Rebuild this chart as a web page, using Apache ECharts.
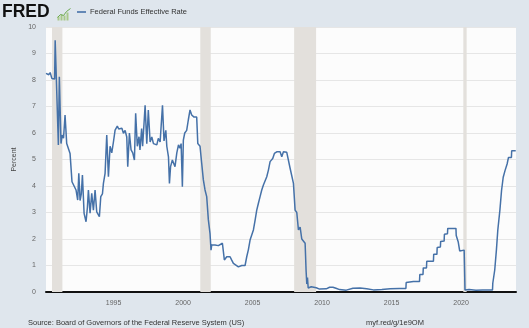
<!DOCTYPE html>
<html><head><meta charset="utf-8">
<script src="https://cdn.jsdelivr.net/npm/echarts@6/dist/echarts.min.js"></script>
<style>html,body{margin:0;padding:0;background:#dfe6ed}#c{width:529px;height:328px}</style>
</head><body><div id="c"></div>
<script>
// x values are fractional years
const dates = [
1990.14,1990.24,1990.34,1990.44,1990.50,1990.56,1990.66,1990.76,1990.80,1991.03,
1991.10,1991.22,1991.30,1991.40,1991.51,1991.63,1991.72,1991.87,1992.01,1992.10,
1992.30,1992.42,1992.50,1992.59,1992.68,1992.76,1992.88,1993.02,1993.12,1993.19,
1993.31,1993.43,1993.55,1993.67,1993.79,1993.91,1993.98,1994.08,1994.20,1994.27,
1994.39,1994.51,1994.63,1994.75,1994.87,1994.99,1995.11,1995.27,1995.37,1995.47,
1995.60,1995.71,1995.83,1995.95,1996.02,1996.14,1996.26,1996.38,1996.50,1996.59,
1996.71,1996.83,1996.90,1997.02,1997.09,1997.19,1997.27,1997.39,1997.50,1997.63,
1997.75,1997.87,1997.99,1998.11,1998.22,1998.35,1998.52,1998.63,1998.76,1998.83,
1998.95,1999.02,1999.10,1999.23,1999.35,1999.42,1999.55,1999.67,1999.78,1999.86,
1999.95,2000.02,2000.12,2000.26,2000.38,2000.50,2000.62,2000.79,2000.98,2001.06,
2001.13,2001.22,2001.34,2001.46,2001.58,2001.70,2001.82,2001.94,2002.01,2002.06,
2002.30,2002.54,2002.66,2002.83,2002.97,2003.14,2003.38,2003.50,2003.62,2003.74,
2003.98,2004.22,2004.46,2004.58,2004.70,2004.82,2004.94,2005.06,2005.18,2005.30,
2005.42,2005.54,2005.66,2005.78,2005.90,2006.02,2006.14,2006.26,2006.45,2006.57,
2006.74,2006.98,2007.10,2007.22,2007.46,2007.58,2007.70,2007.82,2007.94,2008.06,
2008.18,2008.30,2008.42,2008.54,2008.66,2008.78,2008.85,2008.90,2008.95,2009.00,
2009.22,2009.58,2009.82,2010.30,2010.54,2010.78,2011.00,2011.26,2011.74,2012.22,
2012.73,2013.21,2013.69,2014.30,2014.90,2015.57,2016.03,2016.05,2016.57,2017.01,
2017.03,2017.26,2017.28,2017.51,2017.53,2018.01,2018.03,2018.26,2018.28,2018.51,
2018.53,2018.78,2018.80,2019.02,2019.04,2019.63,2019.65,2019.77,2019.79,2019.88,
2019.90,2020.22,2020.24,2020.28,2020.57,2021.07,2021.57,2022.26,2022.28,2022.40,
2022.42,2022.52,2022.54,2022.62,2022.64,2022.77,2022.79,2022.89,2022.91,2023.01,
2023.03,2023.14,2023.16,2023.29,2023.31,2023.39,2023.41,2023.62,2023.64,2023.93
];
const rates = [
8.25,8.30,8.20,8.28,8.22,8.06,8.10,8.04,9.50,5.55,
8.12,5.60,5.92,5.80,6.68,5.60,5.55,5.23,4.16,4.10,
3.85,3.47,4.48,3.45,3.70,4.41,2.97,2.65,3.20,3.85,
2.97,3.72,3.09,3.85,3.02,2.97,2.84,3.60,3.70,4.10,
4.48,5.92,4.35,5.50,5.25,5.66,6.11,6.26,6.15,6.11,
6.18,5.99,6.10,5.85,4.73,6.00,5.36,5.25,4.98,6.74,
5.50,5.86,5.36,6.17,5.50,6.35,7.05,5.60,6.87,5.66,
5.85,5.60,5.66,5.55,5.80,5.66,7.05,5.70,6.10,5.50,
5.10,4.10,4.73,4.98,5.04,4.73,5.25,5.55,5.43,5.60,
3.97,5.73,6.00,6.10,6.50,6.87,6.68,6.60,6.60,5.60,
5.66,5.50,4.86,4.23,3.85,3.60,2.72,2.20,1.58,1.77,
1.77,1.75,1.70,1.84,1.21,1.33,1.33,1.20,1.08,1.15,
0.95,1.00,1.00,1.33,1.60,1.96,2.00,2.34,2.70,3.09,
3.35,3.60,3.85,4.04,4.10,4.35,4.60,4.92,5.04,5.23,
5.29,5.29,5.10,5.29,5.27,5.20,4.67,4.60,4.10,3.09,
3.00,2.34,2.45,2.00,2.00,1.84,0.80,0.30,0.55,0.15,
0.20,0.16,0.11,0.12,0.18,0.18,0.14,0.09,0.07,0.14,
0.15,0.12,0.08,0.09,0.12,0.13,0.13,0.36,0.40,0.40,
0.66,0.66,0.91,0.91,1.16,1.16,1.42,1.42,1.68,1.70,
1.91,1.92,2.18,2.20,2.40,2.40,2.13,2.13,1.90,1.88,
1.55,1.58,1.10,0.08,0.09,0.07,0.08,0.08,0.33,0.33,
0.83,0.83,1.58,1.58,2.33,2.33,3.08,3.08,3.83,3.83,
4.33,4.33,4.58,4.58,4.83,4.83,5.08,5.08,5.33,5.33
];
const recessionStarts = [1990.57, 2001.24, 2007.99, 2020.16];
const recessionEnds   = [1991.32, 2001.99, 2009.57, 2020.40];
const xMin = 1990.14, xMax = 2023.95;
const yTickLabels = ['0','1','2','3','4','5','6','7','8','9','10'];
const seriesName = 'Federal Funds Effective Rate';
const sourceText = 'Source: Board of Governors of the Federal Reserve System (US)';
const linkText = 'myf.red/g/1e9OM';

const chart = echarts.init(document.getElementById('c'), null, {renderer: 'canvas'});
const font = 'Liberation Sans, Arial, sans-serif';
chart.setOption({
  backgroundColor: '#dfe6ed',
  animation: false,
  grid: {left: 46, right: 13, top: 27, bottom: 36, show: true, backgroundColor: '#fcfcfc', borderWidth: 0},
  legend: {
    left: 77, top: 8, padding: 0, itemWidth: 9, itemHeight: 1.6, icon: 'rect', itemGap: 4,
    textStyle: {fontSize: 7.5, color: '#333', fontFamily: font, padding: [0,0,0,-1]},
    data: [seriesName]
  },
  xAxis: {
    type: 'value', min: xMin, max: xMax,
    axisLine: {show: true, lineStyle: {color: '#111', width: 2}},
    axisTick: {show: false},
    splitLine: {show: false},
    axisLabel: {
      color: '#666', fontSize: 7, fontFamily: font, margin: 8,
      showMinLabel: false, showMaxLabel: false,
      formatter: v => (Math.abs(v % 5) < 1e-6 ? String(Math.round(v)) : '')
    }
  },
  yAxis: {
    type: 'value', min: 0, max: 10, interval: 1,
    name: 'Percent', nameLocation: 'middle', nameGap: 28, nameRotate: 90,
    nameTextStyle: {fontSize: 7, color: '#444', fontFamily: font},
    axisLine: {show: false}, axisTick: {show: false},
    axisLabel: {color: '#666', fontSize: 7, fontFamily: font, margin: 10,
      formatter: v => yTickLabels[Math.round(v)]},
    splitLine: {lineStyle: {color: '#e6e6e6', width: 1}}
  },
  series: [{
    name: seriesName, type: 'line', showSymbol: false, symbol: 'none',
    lineStyle: {color: '#4571a8', width: 1.5}, itemStyle: {color: '#4571a8'},
    data: dates.map((d, i) => [d, rates[i]]),
    markArea: {
      silent: true,
      itemStyle: {color: '#e3e0dc'},
      data: recessionStarts.map((s, i) => [{xAxis: s}, {xAxis: recessionEnds[i]}])
    }
  }],
  graphic: [
    {type: 'text', left: 2, top: 3, style: {text: 'FRED', font: 'bold 17.5px ' + font, fill: '#111'}},
    {type: 'group', left: 55, top: 6, children: [
      {type: 'rect', shape: {x: 0, y: 8, width: 2, height: 4}, style: {fill: '#a8c98a'}},
      {type: 'rect', shape: {x: 3, y: 6, width: 2, height: 6}, style: {fill: '#a8c98a'}},
      {type: 'rect', shape: {x: 6, y: 7, width: 2, height: 5}, style: {fill: '#a8c98a'}},
      {type: 'rect', shape: {x: 9, y: 4, width: 2, height: 8}, style: {fill: '#a8c98a'}},
      {type: 'polyline', shape: {points: [[0,9],[3,6],[6,7],[9,3],[13,0]]}, style: {stroke: '#6aa84f', lineWidth: 1, fill: null}}
    ]},
    {type: 'text', left: 28, top: 319, style: {text: sourceText, font: '7.5px ' + font, fill: '#333'}},
    {type: 'text', left: 366, top: 319, style: {text: linkText, font: '7.5px ' + font, fill: '#333'}}
  ]
});
</script>
</body></html>
